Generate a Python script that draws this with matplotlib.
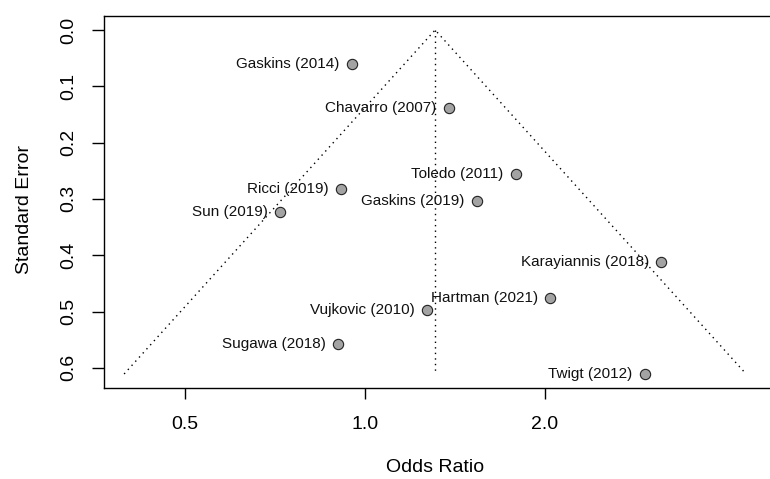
import numpy as np
import matplotlib
matplotlib.use("Agg")
import matplotlib.pyplot as plt
from matplotlib.ticker import FixedLocator, FixedFormatter, NullLocator

plt.rcParams['font.family'] = ['Liberation Sans', 'DejaVu Sans']

# study data
studies = ["Gaskins (2014)", "Chavarro (2007)", "Toledo (2011)", "Gaskins (2019)",
           "Ricci (2019)", "Sun (2019)", "Karayiannis (2018)", "Hartman (2021)",
           "Vujkovic (2010)", "Sugawa (2018)", "Twigt (2012)"]
odds_ratio = [0.951, 1.382, 1.79, 1.54, 0.912, 0.721, 3.13, 2.04, 1.27, 0.901, 2.94]
std_err = [0.060, 0.139, 0.256, 0.304, 0.282, 0.323, 0.412, 0.476, 0.497, 0.558, 0.611]
pooled_or = 1.31
x_ticks = [0.5, 1.0, 2.0]
x_tick_labels = ["0.5", "1.0", "2.0"]
y_ticks = [0.0, 0.1, 0.2, 0.3, 0.4, 0.5, 0.6]

fig = plt.figure(figsize=(7.7, 4.79), dpi=100)
W, H = 770, 479
ax = fig.add_axes([104 / W, 1 - 388 / H, (775 - 104) / W, (388 - 16) / H])

# funnel (pseudo 95% limits) and centre line
se_max = max(std_err)
c = np.log(pooled_or)
fx = np.exp([c - 1.96 * se_max, c, c + 1.96 * se_max])
fy = [se_max, 0, se_max]
ax.plot(fx, fy, color='black', lw=1, ls=(0, (1, 3)))
ax.plot([pooled_or, pooled_or], [0, se_max], color='black', lw=1, ls=(0, (1, 3)))

ax.scatter(odds_ratio, std_err, s=55, facecolor='#a3a3a3', edgecolor='#222222',
           linewidth=0.8, zorder=3)
for name, o, s in zip(studies, odds_ratio, std_err):
    ax.annotate(name, (o, s), xytext=(-9, 0), textcoords='offset points',
                ha='right', va='center', fontsize=11, color='#111111')

ax.set_xscale('log')
ax.set_xlim(2 ** ((104 - 365) / 180), 2 ** ((775 - 365) / 180))
ax.xaxis.set_major_locator(FixedLocator(x_ticks))
ax.xaxis.set_major_formatter(FixedFormatter(x_tick_labels))
ax.xaxis.set_minor_locator(NullLocator())

y0 = 30
ppu = 563
ax.set_ylim((388 - y0) / ppu, (16 - y0) / ppu)
ax.set_yticks(y_ticks)
ax.set_yticklabels(["%.1f" % v for v in y_ticks], rotation=90, va='center')

ax.tick_params(axis='x', length=8, width=1, labelsize=14, pad=12)
ax.tick_params(axis='y', length=9, width=1, labelsize=14, pad=10)
ax.spines['right'].set_visible(False)
for sp in ['left', 'bottom', 'top']:
    ax.spines[sp].set_linewidth(1)

ax.set_xlabel("Odds Ratio", fontsize=14)
ax.set_ylabel("Standard Error", fontsize=14)
ax.xaxis.set_label_coords((435 - 104) / (775 - 104), -(459 - 388) / (388 - 16))
ax.yaxis.set_label_coords(-(104 - 33) / (775 - 104), (388 - 210) / (388 - 16))

fig.savefig("out.png", dpi=100)
